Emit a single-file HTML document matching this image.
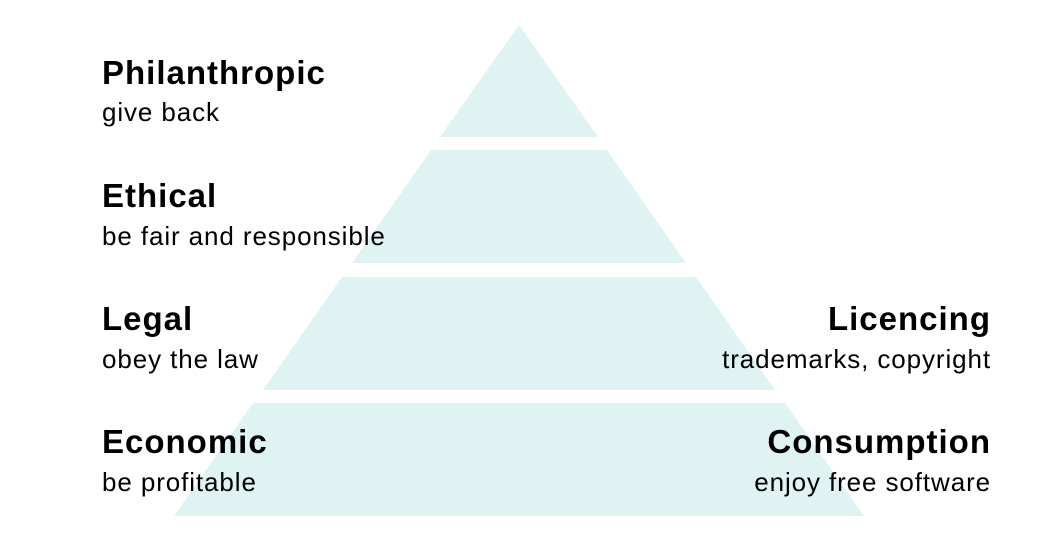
<!DOCTYPE html>
<html><head><style>
body{margin:0;width:1037px;height:537px;background:#fff;overflow:hidden;position:relative;font-family:"Liberation Sans",sans-serif;color:#000}
.t{position:absolute;font-weight:bold;font-size:33px;letter-spacing:1px;line-height:1;white-space:nowrap}
.s{position:absolute;font-size:26px;letter-spacing:0.9px;line-height:1;white-space:nowrap}
.r{text-align:right;right:46px}
.l{left:102px}
</style></head><body>
<svg width="1037" height="537" style="position:absolute;left:0;top:0">
<g fill="#dff3f3">
<polygon points="519,25 598,137 440,137"/>
<polygon points="431,150 607,150 686,263 352,263"/>
<polygon points="342,277 696,277 775,390 263,390"/>
<polygon points="253,403 785,403 864,516 174,516"/>
</g></svg>
<div class="t l" style="top:56px">Philanthropic</div>
<div class="s l" style="top:99px">give back</div>
<div class="t l" style="top:179px">Ethical</div>
<div class="s l" style="top:223px">be fair and responsible</div>
<div class="t l" style="top:302px">Legal</div>
<div class="s l" style="top:346px">obey the law</div>
<div class="t l" style="top:425px">Economic</div>
<div class="s l" style="top:469px">be profitable</div>
<div class="t r" style="top:302px">Licencing</div>
<div class="s r" style="top:346px">trademarks, copyright</div>
<div class="t r" style="top:425px">Consumption</div>
<div class="s r" style="top:469px">enjoy free software</div>
</body></html>
